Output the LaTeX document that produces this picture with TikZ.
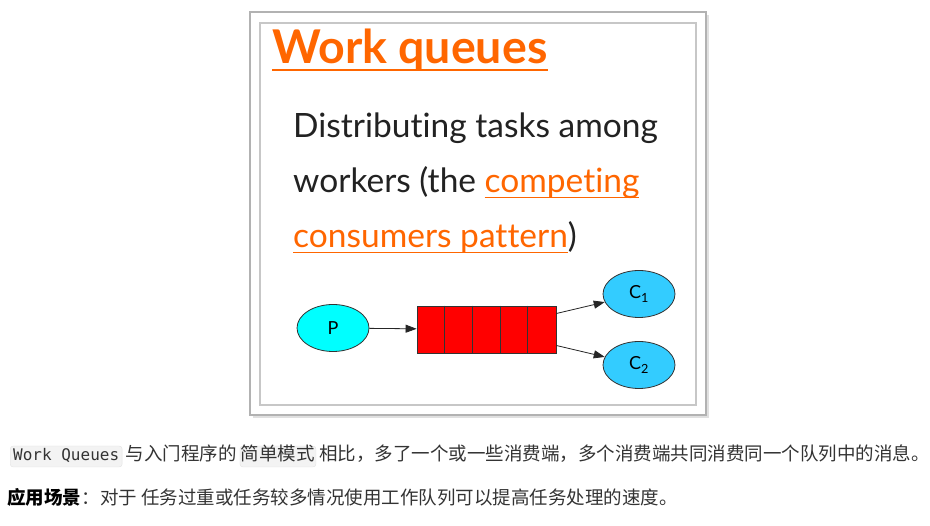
\documentclass[tikz,border=0pt]{standalone}
\usepackage{fontspec}
\setmainfont{Lato}[Ligatures={NoCommon}]
\newfontfamily\cjk{Noto Sans CJK SC}
\newfontfamily\codefont{DejaVu Sans Mono}
\usetikzlibrary{positioning,shapes.geometric,arrows.meta}

\definecolor{linkorange}{HTML}{FF6600}
\definecolor{bodyink}{HTML}{222222}
\definecolor{zhink}{HTML}{333333}
\definecolor{pcyan}{HTML}{00FFFF}
\definecolor{cblue}{HTML}{33CCFF}
\definecolor{codebg}{HTML}{F3F3F3}
\definecolor{codeline}{HTML}{E3E3E3}

% orange link with its underline
\newsavebox{\linkbox}
\newcommand{\linktext}[1]{\sbox{\linkbox}{\color{linkorange}#1}%
  \textcolor{linkorange}{\rlap{\rule[-5pt]{\wd\linkbox}{1.3pt}}}\usebox{\linkbox}}

\tikzset{
  txt/.style={inner sep=0pt, anchor=base west},
  headline/.style={txt, text=linkorange, font=\fontsize{46.5}{54}\selectfont\bfseries},
  bodyline/.style={txt, text=bodyink, font=\fontsize{33.5}{40}\selectfont},
  mqnode/.style={ellipse, draw=black!80, line width=0.8pt, minimum width=72pt,
    minimum height=47pt, inner sep=0pt, font=\fontsize{18}{21}\selectfont},
  queuebox/.style={draw=black!80, line width=0.8pt, fill=red, minimum width=139pt,
    minimum height=47pt, inner sep=0pt},
  zh/.style={inner sep=0pt, text=zhink, font=\cjk\fontsize{18.5}{22}\selectfont},
  codebox/.style={fill=codebg, draw=codeline, rounded corners=3pt, inner xsep=3pt,
    inner ysep=2pt, text height=13pt, text depth=4pt, text=zhink},
}

\begin{document}
\begin{tikzpicture}[x=1pt, y=-1pt, >={Triangle[length=11pt,width=8pt]}]
\useasboundingbox (0,0) rectangle (930,526);

% Рамка картинки
\fill[black!12] (253,15) rectangle (709,418);
\draw[black!30, fill=white, line width=1.2pt] (250,12) rectangle (706,415);
\draw[black!22, line width=1.5pt] (260,23) rectangle (696,405);

% Заголовок
\node[headline] (title) at (272,64) {Work queues};
\draw[linkorange, line width=2pt] ([yshift=-6pt]title.base west) -- ([yshift=-6pt]title.base east);

% Текст
\node[bodyline] (line1) at (293,138) {Distributing tasks among};
\node[bodyline] (line2) at (293,193) {workers (the \linktext{competing}};
\node[bodyline] (line3) at (293,248) {\linktext{consumers pattern})};

% Схема
\node[mqnode, fill=pcyan] (P) at (333,328) {P};
\node[queuebox] (queue) at (486.5,329.5) {};
\foreach \i in {1,...,4}
  \draw[black!80, line width=0.8pt] ([xshift=\i*27.8pt]queue.north west) -- ([xshift=\i*27.8pt]queue.south west);
\node[mqnode, fill=cblue] (C1) at (639,294) {C\textsubscript{1}};
\node[mqnode, fill=cblue] (C2) at (639,365) {C\textsubscript{2}};

\draw[->, black!85, line width=0.8pt] (P) -- (queue);
\draw[->, black!85, line width=0.8pt] ([yshift=16pt]queue.east) -- (C1);
\draw[->, black!85, line width=0.8pt] ([yshift=-16pt]queue.east) -- (C2);

% Подпись снизу
\node[codebox, anchor=base west, font=\codefont\fontsize{16}{19}\selectfont] (code1) at (10,461) {Work Queues};
\node[zh, base right=3pt of code1] (zh1) {与入门程序的};
\node[codebox, inner xsep=1pt, font=\cjk\fontsize{18.5}{22}\selectfont, base right=3pt of zh1] (code2) {简单模式};
\node[zh, base right=3pt of code2] (zh2) {相比，多了一个或一些消费端，多个消费端共同消费同一个队列中的消息。};

\node[zh, anchor=base west, font=\cjk\bfseries\fontsize{18.5}{22}\selectfont, text=black] (scene) at (7,505) {应用场景};
\node[zh, base right=0pt of scene] (zh3) {：对于 任务过重或任务较多情况使用工作队列可以提高任务处理的速度。};
\end{tikzpicture}
\end{document}
